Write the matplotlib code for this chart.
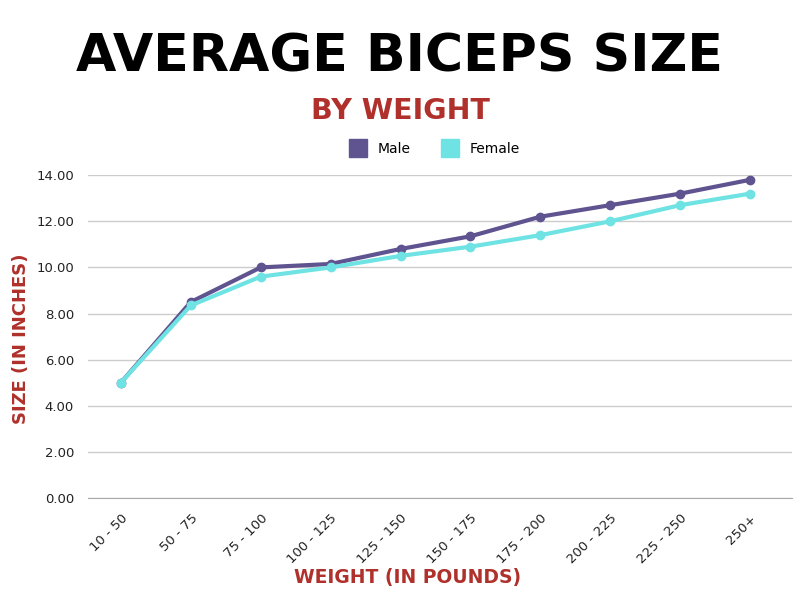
import numpy as np
import matplotlib
matplotlib.use('Agg')
import matplotlib.pyplot as plt
from matplotlib.lines import Line2D

categories = ['10 - 50', '50 - 75', '75 - 100', '100 - 125', '125 - 150',
              '150 - 175', '175 - 200', '200 - 225', '225 - 250', '250+']
male = [5.0, 8.5, 10.0, 10.15, 10.8, 11.35, 12.2, 12.7, 13.2, 13.8]
female = [5.0, 8.35, 9.6, 10.0, 10.5, 10.9, 11.4, 12.0, 12.7, 13.2]
yticks = [0, 2, 4, 6, 8, 10, 12, 14]

male_c = '#5f5490'
female_c = '#6fe3e3'
red = '#b0302b'

fig = plt.figure(figsize=(8, 6), dpi=100)
ax = fig.add_axes([0.11, 0.17, 0.88, 0.538])

x = np.arange(len(categories))
ax.plot(x, male, color=male_c, lw=3, marker='o', ms=6, zorder=3)
ax.plot(x, female, color=female_c, lw=3, marker='o', ms=6, zorder=4)

ax.set_xlim(-0.47, 9.6)
ax.set_ylim(0, 14)
ax.set_yticks(yticks)
ax.set_yticklabels(['%.2f' % v for v in yticks], fontsize=9.5, color='#222222')
ax.set_xticks(x)
ax.set_xticklabels(categories, rotation=45, ha='right', rotation_mode='anchor',
                   fontsize=9.5, color='#222222')
ax.tick_params(length=0, pad=10)
ax.grid(axis='y', color='#cccccc', lw=1)
ax.set_axisbelow(True)
for s in ['top', 'right', 'left']:
    ax.spines[s].set_visible(False)
ax.spines['bottom'].set_color('#aaaaaa')

fig.text(0.5, 0.905, 'AVERAGE BICEPS SIZE', ha='center', va='center',
         fontsize=37.5, fontweight='heavy', color='black', family='DejaVu Sans')
fig.text(0.5, 0.815, 'BY WEIGHT', ha='center', va='center',
         fontsize=20.5, fontweight='bold', color=red)
fig.text(0.51, 0.037, 'WEIGHT (IN POUNDS)', ha='center', va='center',
         fontsize=13.5, fontweight='bold', color=red)
fig.text(0.026, 0.435, 'SIZE (IN INCHES)', ha='center', va='center',
         rotation=90, fontsize=13, fontweight='bold', color=red)

handles = [Line2D([], [], ls='', marker='s', ms=13, color=male_c),
           Line2D([], [], ls='', marker='s', ms=13, color=female_c)]
fig.legend(handles, ['Male', 'Female'], loc='center', bbox_to_anchor=(0.54, 0.752),
           ncol=2, frameon=False, fontsize=10, handletextpad=0.4, columnspacing=1.8)

fig.savefig('out.png', dpi=100)
